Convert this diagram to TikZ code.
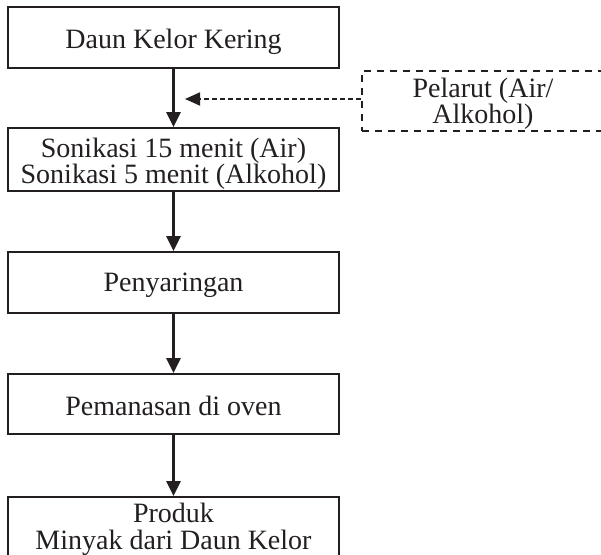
\documentclass[tikz,border=0pt]{standalone}
\usepackage{fontspec}
\setmainfont{Liberation Serif}
\usetikzlibrary{arrows.meta}
\definecolor{ink}{HTML}{231F20}
\begin{document}
\begin{tikzpicture}[x=1pt,y=-1pt,
  stepbox/.style={draw=ink, line width=1.8pt, minimum width=331pt, inner sep=0pt},
  solventbox/.style={draw=ink, line width=1.6pt, dash pattern=on 7pt off 6pt,
    minimum width=241pt, minimum height=60pt, inner sep=0pt},
  lbl/.style={text=ink, font=\fontsize{28}{26}\selectfont, align=center,
    inner sep=0pt, anchor=base},
  flow/.style={draw=ink, line width=2.4pt, -{Triangle[width=14pt,length=15pt]}},
  feed/.style={draw=ink, line width=1.8pt, dash pattern=on 5pt off 3pt,
    -{Triangle[width=13pt,length=15pt]}}
]
\useasboundingbox (0,0) rectangle (601,554);

% process steps
\node[stepbox, minimum height=61pt] (b1) at (173.5,37.5) {};
\node[stepbox, minimum height=63pt] (b2) at (173.5,159.5) {};
\node[stepbox, minimum height=61pt] (b3) at (173.5,282.5) {};
\node[stepbox, minimum height=60pt] (b4) at (173.5,404) {};
\node[stepbox, minimum height=76pt] (b5) at (173.5,535) {};

% solvent input
\node[solventbox] (pel) at (482.5,101) {};

% labels (base anchor = baseline of the last line)
\node[lbl] (t1) at (173.5,48) {Daun Kelor Kering};
\node[lbl] (t2) at (173.5,183) {Sonikasi 15 menit (Air)\\Sonikasi 5 menit (Alkohol)};
\node[lbl] (t3) at (173.5,291) {Penyaringan};
\node[lbl] (t4) at (173.5,415) {Pemanasan di oven};
\node[lbl, font=\fontsize{28}{27}\selectfont] (t5) at (173.5,549) {Produk\\Minyak dari Daun Kelor};
\node[lbl] (tp) at (483,123) {Pelarut (Air/\\Alkohol)};

% connectors
\draw[flow] (b1.south) -- (b2.north);
\draw[flow] (b2.south) -- (b3.north);
\draw[flow] (b3.south) -- (b4.north);
\draw[flow] (b4.south) -- (b5.north);
\coordinate (tip) at (185,99);
\draw[feed] (pel.west |- tip) -- (tip);
\end{tikzpicture}
\end{document}
